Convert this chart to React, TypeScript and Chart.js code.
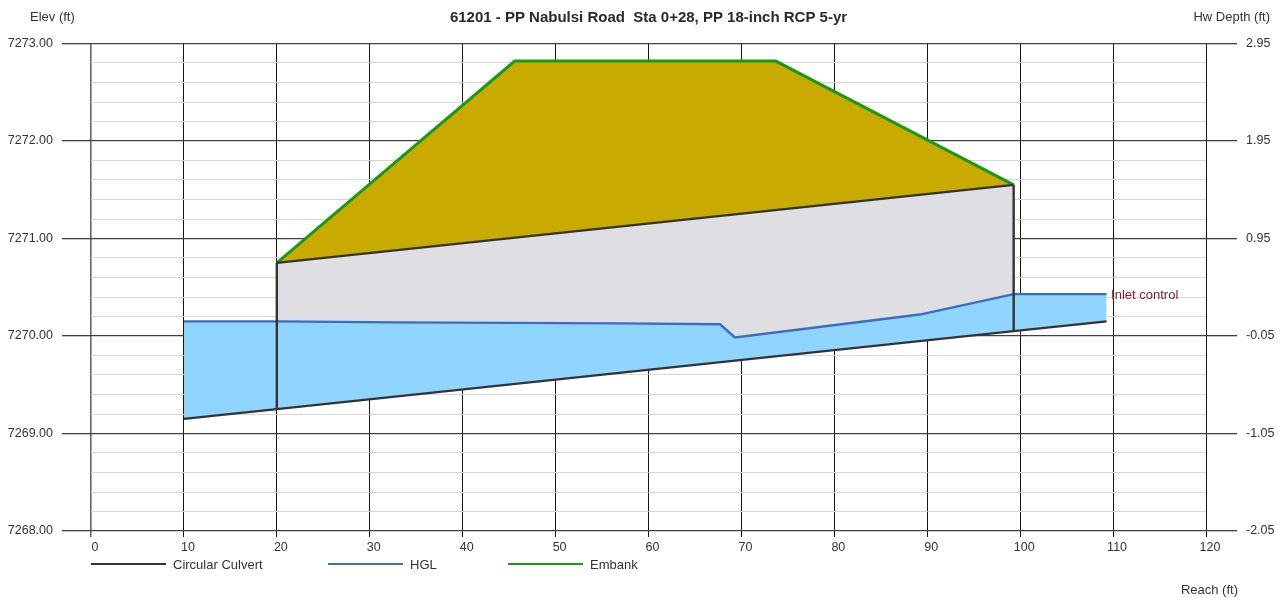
import React, { useEffect, useRef } from "react";
import { Chart, registerables } from "chart.js";

Chart.register(...registerables);

const TITLE = "61201 - PP Nabulsi Road  Sta 0+28, PP 18-inch RCP 5-yr";
const xTicksMax = 120;
const rightTicks = [2.95, 1.95, 0.95, -0.05, -1.05, -2.05];

const culvertBottomX = [10, 20, 99.3, 109.3];
const culvertBottomY = [7269.15, 7269.25, 7270.05, 7270.15];
const culvertTopX = [20, 99.3];
const culvertTopY = [7270.75, 7271.55];
const hglX = [10, 20, 33, 57, 67.7, 69.3, 89.2, 99.3, 109.3];
const hglY = [7270.15, 7270.15, 7270.14, 7270.13, 7270.12, 7269.985, 7270.22, 7270.43, 7270.43];
const embankX = [20, 45.6, 73.7, 99.3];
const embankY = [7270.75, 7272.82, 7272.82, 7271.55];
const legendLabels = ["Circular Culvert", "HGL", "Embank"];
const legendStarts = [91, 328, 508];

const FONT = "'Liberation Sans', Arial, sans-serif";
const TXT = "#333333";
const C_CULVERT = "#333333";
const C_HGL = "#3a6cc4";
const C_EMB = "#1a9a14";
const legendColors = [C_CULVERT, C_HGL, C_EMB];

const pts = (xs: number[], ys: number[]) => xs.map((x, i) => ({ x, y: ys[i] }));
const isMajor = (c: any) => {
  const r = Math.abs((c.tick?.value ?? 0) % 1);
  return r < 1e-6 || r > 0.999;
};

const extras = {
  id: "extras",
  afterDraw(chart: any) {
    const { ctx, scales } = chart;
    ctx.save();
    ctx.font = `13px ${FONT}`;
    ctx.fillStyle = TXT;
    ctx.textBaseline = "middle";
    ctx.textAlign = "left";
    ctx.fillText("Elev (ft)", 30, 17);
    ctx.textAlign = "right";
    ctx.fillText("Hw Depth (ft)", 1270, 17);
    ctx.fillText("Reach (ft)", 1238, 590);
    ctx.textAlign = "left";
    legendLabels.forEach((label, i) => {
      const x = legendStarts[i];
      ctx.fillStyle = legendColors[i];
      ctx.fillRect(x, 563, 75, 2);
      ctx.fillStyle = TXT;
      ctx.fillText(label, x + 82, 565.5);
    });
    ctx.fillStyle = "#8b1a2b";
    ctx.fillText("Inlet control", scales.x.getPixelForValue(culvertBottomX[3]) + 4.5, scales.y.getPixelForValue(7270.43) + 1);
    ctx.restore();
  },
};

export default function App() {
  const ref = useRef<HTMLCanvasElement>(null);
  useEffect(() => {
    const chart = new Chart(ref.current!, {
      type: "scatter",
      plugins: [extras],
      data: {
        datasets: [
          { label: legendLabels[0], data: pts(culvertBottomX, culvertBottomY), showLine: true, borderColor: C_CULVERT, borderWidth: 2.4, pointRadius: 0, order: 2, fill: false },
          { label: "Culvert top", data: pts(culvertTopX, culvertTopY), showLine: true, borderColor: C_CULVERT, borderWidth: 2.2, pointRadius: 0, order: 3, fill: { target: 0 }, backgroundColor: "#dfdfe3" },
          { label: legendLabels[1], data: pts(hglX, hglY), showLine: true, borderColor: C_HGL, borderWidth: 2.4, pointRadius: 0, order: 2.5, fill: { target: 0 }, backgroundColor: "#90d5ff" },
          { label: legendLabels[2], data: pts(embankX, embankY), showLine: true, borderColor: C_EMB, borderWidth: 3, pointRadius: 0, order: 4, fill: { target: 1 }, backgroundColor: "#c8aa00" },
          { label: "Inlet wall", data: pts([culvertBottomX[1], culvertTopX[0]], [culvertBottomY[1], culvertTopY[0]]), showLine: true, borderColor: C_CULVERT, borderWidth: 2.4, pointRadius: 0, order: 1, fill: false },
          { label: "Outlet wall", data: pts([culvertBottomX[2], culvertTopX[1]], [culvertBottomY[2], culvertTopY[1]]), showLine: true, borderColor: C_CULVERT, borderWidth: 2.4, pointRadius: 0, order: 1, fill: false },
        ],
      },
      options: {
        animation: false,
        responsive: false,
        devicePixelRatio: 1,
        layout: { autoPadding: false, padding: 0 },
        plugins: {
          legend: { display: false },
          tooltip: { enabled: false },
          title: {
            display: true,
            text: TITLE,
            fullSize: false,
            color: "#2a2a2a",
            font: { family: FONT, size: 15, weight: "bold" },
            padding: { top: 8.5, bottom: 17 },
          },
        },
        scales: {
          x: {
            type: "linear",
            min: 0,
            max: xTicksMax,
            afterFit: (s: any) => { s.height = 67; },
            border: { display: false },
            grid: {
              tickLength: 6,
              lineWidth: (c: any) => (c.tick?.value === 0 ? 1.6 : 1),
              color: (c: any) => (c.tick?.value === 0 ? "#666666" : "#151515"),
              tickColor: (c: any) => (c.tick?.value === 0 ? "#666666" : "#151515"),
            },
            ticks: { stepSize: 10, color: TXT, font: { family: FONT, size: 12.5 }, padding: 3, labelOffset: 4, maxRotation: 0 },
          },
          y: {
            type: "linear",
            position: "left",
            min: 7268,
            max: 7273,
            afterFit: (s: any) => { s.width = 91; },
            border: { display: false },
            grid: {
              tickLength: 29,
              lineWidth: (c: any) => (isMajor(c) ? 1.3 : 1),
              color: (c: any) => (isMajor(c) ? "#404040" : "#d6d6d6"),
              tickColor: (c: any) => (isMajor(c) ? "#404040" : "rgba(0,0,0,0)"),
            },
            ticks: {
              stepSize: 0.2,
              autoSkip: false,
              padding: 9,
              color: TXT,
              font: { family: FONT, size: 12.5 },
              callback: (v: any) => (Math.abs(v - Math.round(v)) < 1e-6 ? Number(v).toFixed(2) : ""),
            },
          },
          y2: {
            type: "linear",
            position: "right",
            min: -2.05,
            max: 2.95,
            afterFit: (s: any) => { s.width = 74; },
            afterBuildTicks: (s: any) => { s.ticks = rightTicks.map((value) => ({ value })); },
            border: { display: false },
            grid: { drawOnChartArea: false, tickLength: 31, lineWidth: 1.3, tickColor: "#404040" },
            ticks: {
              autoSkip: false,
              padding: 9,
              color: TXT,
              font: { family: FONT, size: 12.5 },
              callback: (v: any) => Number(v).toFixed(2),
            },
          },
        },
      } as any,
    });
    return () => chart.destroy();
  }, []);
  return (
    <canvas
      ref={ref}
      width={1280}
      height={598}
      style={{ position: "absolute", left: 0, top: 0, width: 1280, height: 598, background: "#fff" }}
    />
  );
}
